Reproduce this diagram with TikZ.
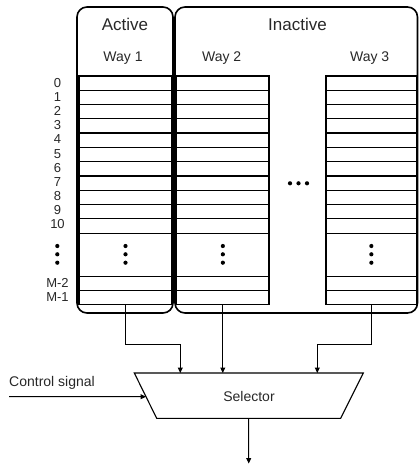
\documentclass[tikz,border=0pt]{standalone}
\usepackage{fontspec}
\setmainfont{Liberation Sans}
\usetikzlibrary{arrows.meta,calc}
\definecolor{txt}{RGB}{40,40,40}
\begin{document}
\begin{tikzpicture}[x=1pt,y=-1pt,
  grp/.style={draw=black, line width=1.6pt, rounded corners=10pt},
  tbl/.style={line width=1.3pt},
  thinline/.style={line width=0.9pt},
  lbl/.style={inner sep=0pt, text=txt, font=\fontsize{14}{16}\selectfont},
  big/.style={inner sep=0pt, text=txt, font=\fontsize{17}{20}\selectfont},
  num/.style={inner sep=0pt, text=txt, font=\fontsize{13}{15}\selectfont},
  conn/.style={line width=1pt, -{Triangle[length=5.5pt,width=5pt]}},
  dot/.style={circle, fill=black, inner sep=0pt, minimum size=4.2pt}
]
\useasboundingbox[fill=white] (0,0) rectangle (419,466);

% group boxes
\draw[grp] (77,7) rectangle (173,313);
\draw[grp] (175,7) rectangle (417.5,313);
\node[big, anchor=base] (active) at (125,30) {Active};
\node[big, anchor=base] (inactive) at (297.5,30) {Inactive};

% way labels
\node[lbl, anchor=base] (way1) at (123,61.5) {Way 1};
\node[lbl, anchor=base] (way2) at (221.7,61.5) {Way 2};
\node[lbl, anchor=base] (way3) at (369.7,61.5) {Way 3};

% tables
\foreach \L/\R in {79/172, 176.7/269, 326/416.7} {
  \draw[tbl] (\L,76) rectangle (\R,304.3);
  \foreach \i in {1,...,10} \draw[tbl] (\L,{76+14.27*\i}) -- (\R,{76+14.27*\i});
  \draw[thinline] (\L,233) -- (\R,233);
  \draw[thinline] (\L,276) -- (\R,276);
  \draw[thinline] (\L,290.3) -- (\R,290.3);
  \foreach \yy in {246,254.3,262.7}
    \node[dot] at ({(\L+\R)/2},\yy) {};
}

% row numbers
\foreach \i in {0,...,10}
  \node[num] (n\i) at (57.5,{82.9+14.15*\i}) {\i};
\foreach \yy in {246,254.3,262.7}
  \node[dot] at (57.3,\yy) {};
\node[num] (nm2) at (57.5,283) {M-2};
\node[num] (nm1) at (57.5,297.3) {M-1};

% horizontal dots
\foreach \xx in {290,298.5,307}
  \node[dot] at (\xx,183.3) {};

% selector
\coordinate (stl) at (134.3,373);
\coordinate (str) at (363.3,373);
\coordinate (sbr) at (340.7,418.3);
\coordinate (sbl) at (156.7,418.3);
\draw[line width=1.1pt] (stl) -- (str) -- (sbr) -- (sbl) -- cycle;
\node[lbl, anchor=base] (sel) at (249,401.5) {Selector};

% connectors
\coordinate (w1) at (125.5,304.3);
\coordinate (w2) at (222.8,304.3);
\coordinate (w3) at (371.4,304.3);
\coordinate (k1) at (180.3,344);
\coordinate (k3) at (317.3,344);
\coordinate (in1) at (180.3,373);
\coordinate (in2) at (222.8,373);
\coordinate (in3) at (317.3,373);
\draw[conn] (w1) |- (k1) -- (in1);
\draw[conn] (w2) -- (in2);
\draw[conn] (w3) |- (k3) -- (in3);

\node[lbl, anchor=base west] (ctl) at (9,386) {Control signal};
\coordinate (cs) at (9,396.7);
\coordinate (ce) at ($(stl)!0.523!(sbl)$);
\draw[conn] (cs) -- (ce);

\coordinate (sbot) at ($(sbl)!0.5!(sbr)$);
\coordinate (out) at (248.7,463.5);
\draw[conn] (sbot) -- (out);
\end{tikzpicture}
\end{document}
